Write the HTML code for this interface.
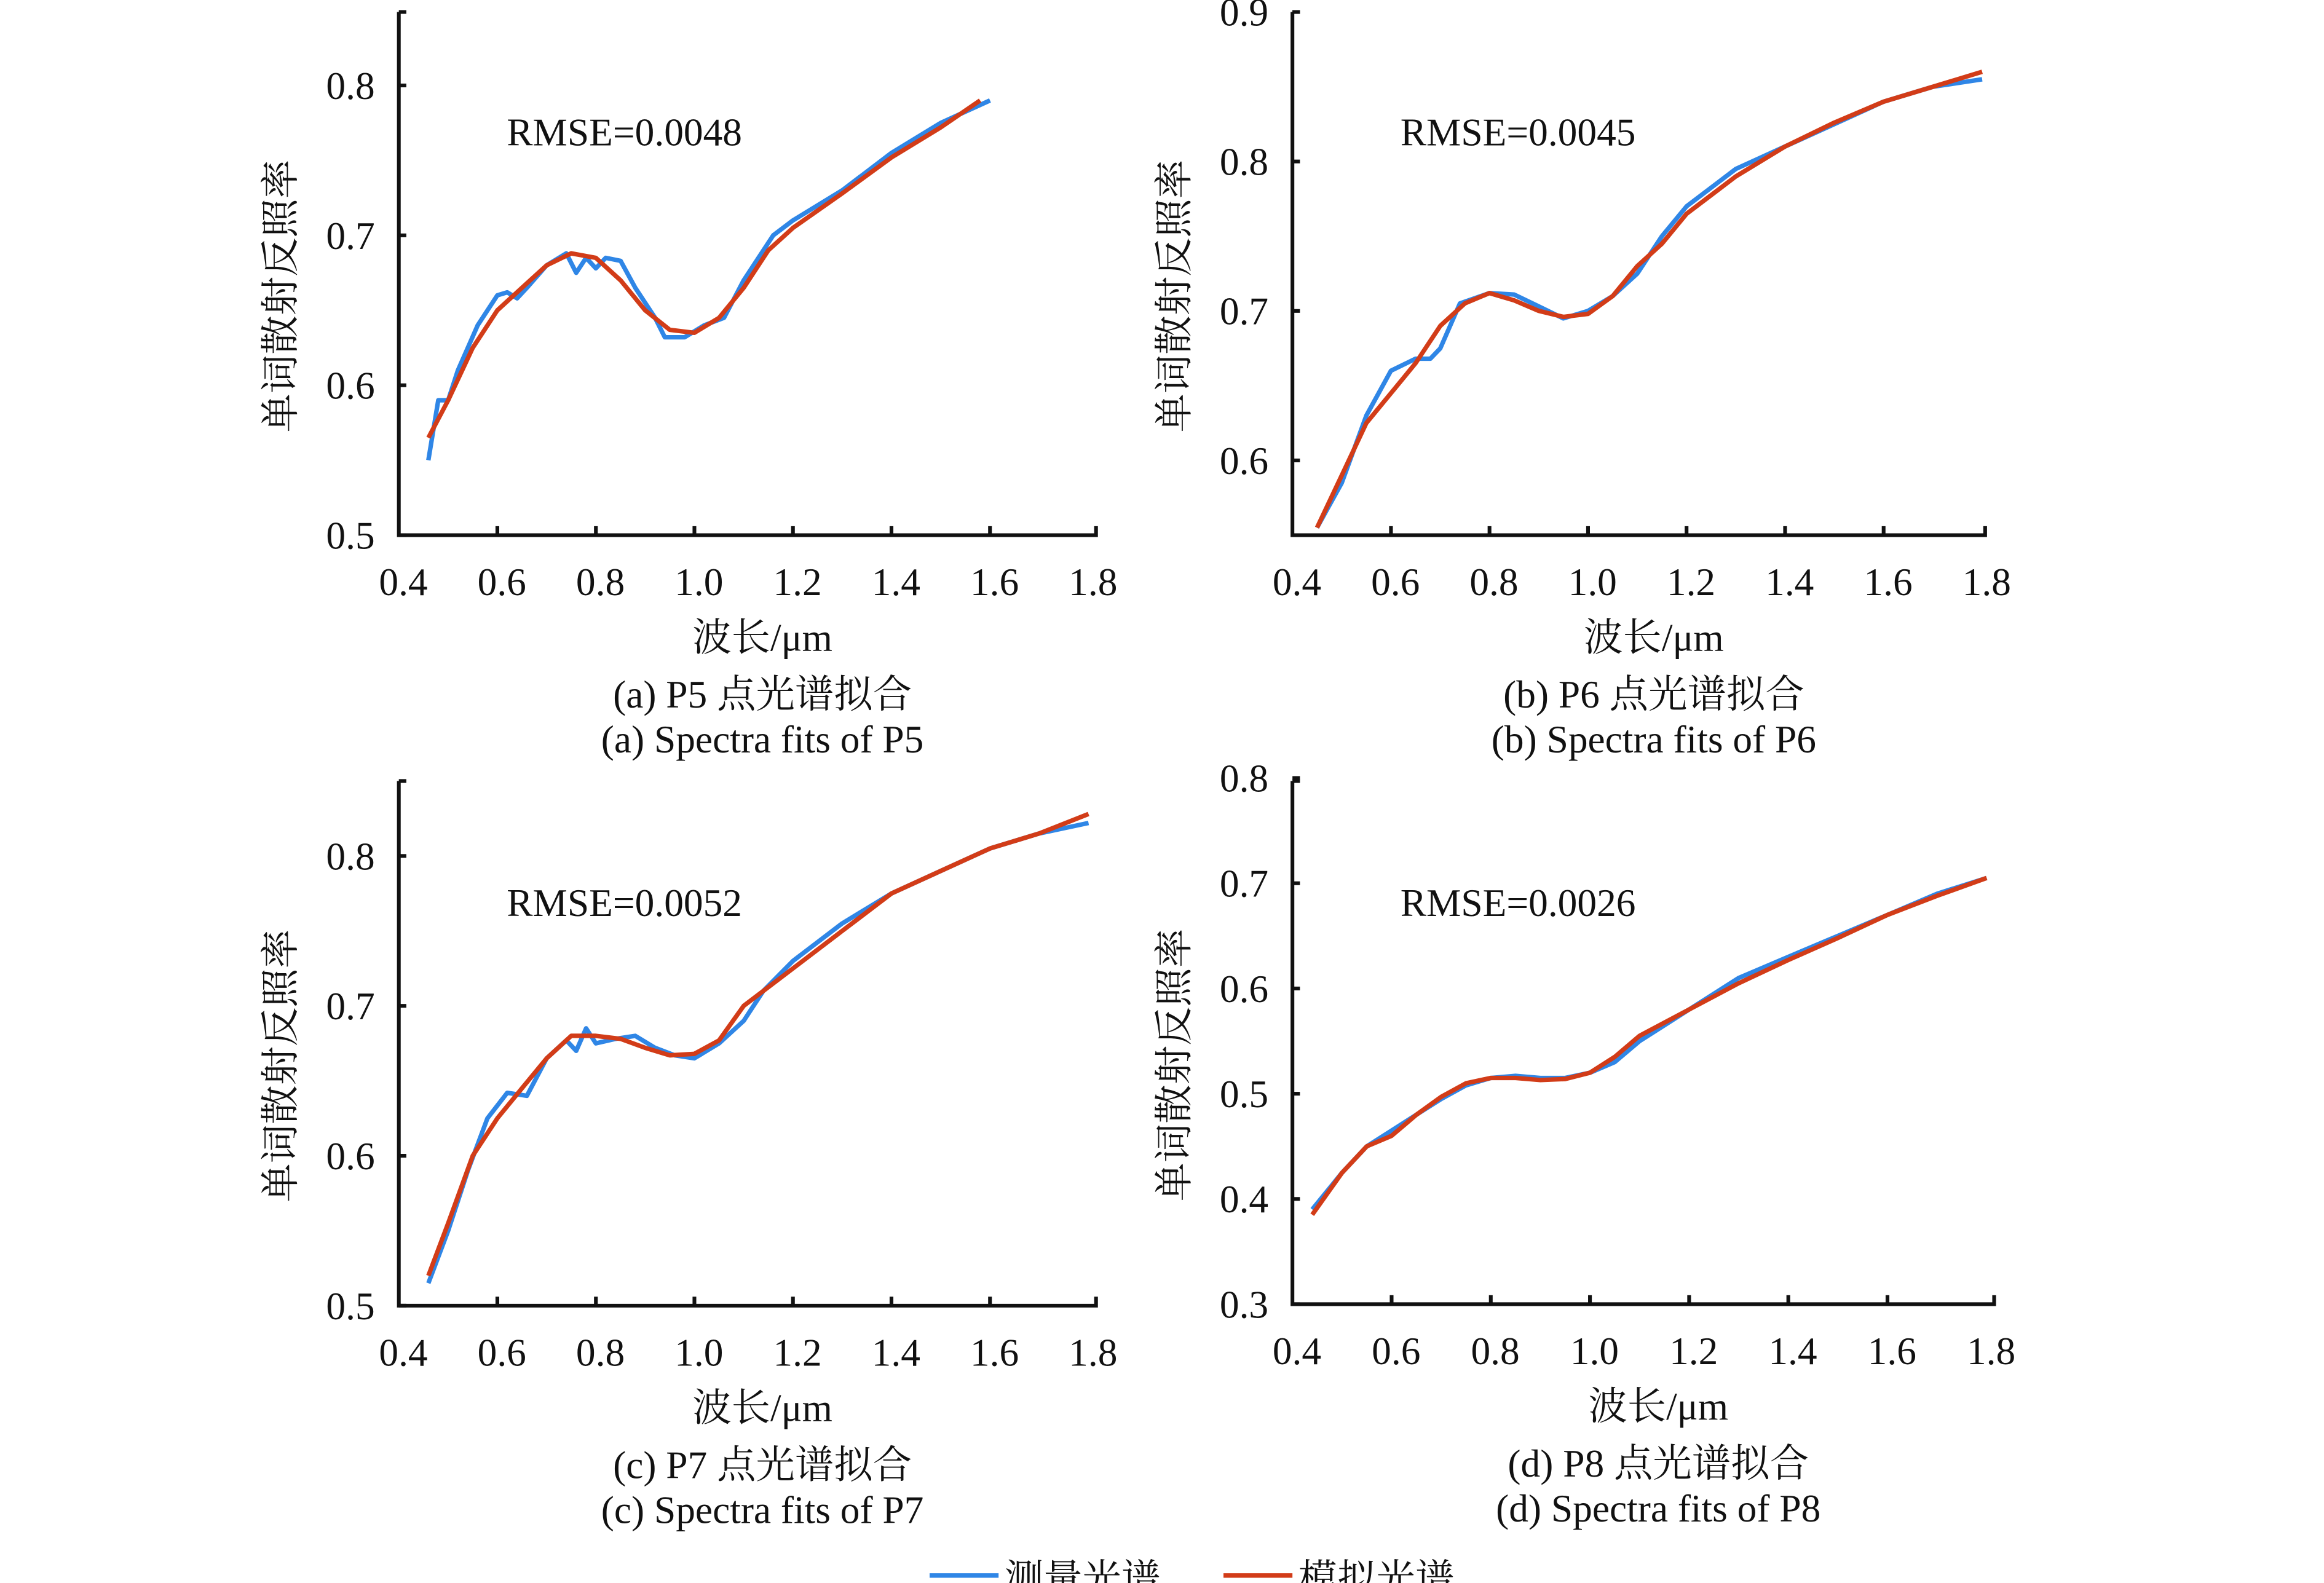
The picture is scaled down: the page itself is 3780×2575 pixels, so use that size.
<!DOCTYPE html>
<html><head><meta charset="utf-8">
<style>
html,body{margin:0;padding:0;background:#fff;}
svg{display:block;}
text{font-family:"Liberation Serif","Noto Serif CJK SC",serif;fill:#111;}
</style></head>
<body>
<svg id="chart" width="3780" height="2575" viewBox="0 0 1550 1056" preserveAspectRatio="none" xmlns="http://www.w3.org/2000/svg">
<g id="root"></g>
</svg>
<script>
// ---- data ----
const xTicks = [0.4,0.6,0.8,1.0,1.2,1.4,1.6,1.8];
const xTickLabels = ["0.4","0.6","0.8","1.0","1.2","1.4","1.6","1.8"];

const aMeasX = [0.46,0.48,0.50,0.52,0.56,0.60,0.62,0.64,0.66,0.70,0.74,0.76,0.78,0.80,0.82,0.85,0.88,0.92,0.94,0.98,1.02,1.06,1.10,1.16,1.20,1.30,1.40,1.50,1.60];
const aMeasY = [0.55,0.59,0.59,0.61,0.64,0.66,0.662,0.658,0.665,0.68,0.688,0.675,0.685,0.678,0.685,0.683,0.665,0.645,0.632,0.632,0.64,0.645,0.67,0.70,0.71,0.73,0.755,0.775,0.79];
const aModX = [0.46,0.50,0.55,0.60,0.65,0.70,0.75,0.80,0.85,0.90,0.95,1.00,1.05,1.10,1.15,1.20,1.30,1.40,1.50,1.58];
const aModY = [0.565,0.59,0.625,0.65,0.665,0.68,0.688,0.685,0.67,0.65,0.637,0.635,0.645,0.665,0.69,0.705,0.728,0.752,0.772,0.79];

const bMeasX = [0.45,0.50,0.55,0.60,0.65,0.68,0.70,0.74,0.80,0.85,0.90,0.95,1.00,1.05,1.10,1.15,1.20,1.30,1.40,1.50,1.60,1.70,1.80];
const bMeasY = [0.555,0.585,0.63,0.66,0.668,0.668,0.675,0.705,0.712,0.711,0.703,0.695,0.70,0.71,0.725,0.75,0.77,0.795,0.81,0.825,0.84,0.85,0.855];
const bModX = [0.45,0.50,0.55,0.60,0.65,0.70,0.75,0.80,0.85,0.90,0.95,1.00,1.05,1.10,1.15,1.20,1.30,1.40,1.50,1.60,1.70,1.80];
const bModY = [0.555,0.59,0.625,0.645,0.665,0.69,0.705,0.712,0.707,0.70,0.696,0.698,0.71,0.73,0.745,0.765,0.79,0.81,0.826,0.84,0.85,0.86];

const cMeasX = [0.46,0.50,0.54,0.58,0.62,0.66,0.70,0.74,0.76,0.78,0.80,0.84,0.88,0.92,0.96,1.00,1.05,1.10,1.14,1.20,1.30,1.40,1.50,1.60,1.70,1.80];
const cMeasY = [0.515,0.55,0.59,0.625,0.642,0.64,0.665,0.677,0.67,0.685,0.675,0.678,0.68,0.672,0.667,0.665,0.675,0.69,0.71,0.73,0.755,0.775,0.79,0.805,0.815,0.822];
const cModX = [0.46,0.50,0.55,0.60,0.65,0.70,0.75,0.80,0.85,0.90,0.95,1.00,1.05,1.10,1.20,1.30,1.40,1.50,1.60,1.70,1.80];
const cModY = [0.52,0.555,0.60,0.625,0.645,0.665,0.68,0.68,0.678,0.672,0.667,0.668,0.677,0.70,0.725,0.75,0.775,0.79,0.805,0.815,0.828];

const dMeasX = [0.44,0.50,0.55,0.60,0.65,0.70,0.75,0.80,0.85,0.90,0.95,1.00,1.05,1.10,1.15,1.20,1.30,1.40,1.50,1.60,1.70,1.80];
const dMeasY = [0.39,0.425,0.45,0.465,0.48,0.495,0.508,0.515,0.517,0.515,0.515,0.52,0.53,0.55,0.565,0.58,0.61,0.63,0.65,0.67,0.69,0.705];
const dModX = [0.44,0.50,0.55,0.60,0.65,0.70,0.75,0.80,0.85,0.90,0.95,1.00,1.05,1.10,1.20,1.30,1.40,1.50,1.60,1.70,1.80];
const dModY = [0.385,0.425,0.45,0.46,0.48,0.497,0.51,0.515,0.515,0.513,0.514,0.52,0.535,0.555,0.58,0.605,0.627,0.648,0.67,0.688,0.705];

const panels = [
 {id:'a', x0:266, x1:726, xEnd:731, yTop:8, yBot:357, yMin:0.5, yMax:0.8, yMaxPx:57, yTicks:[0.5,0.6,0.7,0.8], yLabels:["0.5","0.6","0.7","0.8"], rmse:"RMSE=0.0048", cn:"(a) P5 点光谱拟合", en:"(a) Spectra fits of P5", mx:aMeasX,my:aMeasY,fx:aModX,fy:aModY},
 {id:'b', x0:862, x1:1322, xEnd:1324, yTop:8, yBot:357, yMin:0.55, yMax:0.9, yMaxPx:8, yTicks:[0.6,0.7,0.8,0.9], yLabels:["0.6","0.7","0.8","0.9"], rmse:"RMSE=0.0045", cn:"(b) P6 点光谱拟合", en:"(b) Spectra fits of P6", mx:bMeasX,my:bMeasY,fx:bModX,fy:bModY},
 {id:'c', x0:266, x1:726, xEnd:731, yTop:521, yBot:871, yMin:0.5, yMax:0.8, yMaxPx:571, yTicks:[0.5,0.6,0.7,0.8], yLabels:["0.5","0.6","0.7","0.8"], rmse:"RMSE=0.0052", cn:"(c) P7 点光谱拟合", en:"(c) Spectra fits of P7", mx:cMeasX,my:cMeasY,fx:cModX,fy:cModY},
 {id:'d', x0:862, x1:1325, xEnd:1330, yTop:521, yBot:870, yMin:0.3, yMax:0.8, yMaxPx:519, yTicks:[0.3,0.4,0.5,0.6,0.7,0.8], yLabels:["0.3","0.4","0.5","0.6","0.7","0.8"], rmse:"RMSE=0.0026", cn:"(d) P8 点光谱拟合", en:"(d) Spectra fits of P8", mx:dMeasX,my:dMeasY,fx:dModX,fy:dModY}
];

const NS='http://www.w3.org/2000/svg';
const root=document.getElementById('root');
function mk(tag,attrs,parent,txt){const e=document.createElementNS(NS,tag);for(const k in attrs)e.setAttribute(k,attrs[k]);if(txt!==undefined)e.textContent=txt;(parent||root).appendChild(e);return e;}

panels.forEach(p=>{
  const g=mk('g',{});
  
  
  const sx=v=>p.x0+(v-0.4)/(1.4)*(p.x1-p.x0);
  const sy=v=>p.yBot-(v-p.yMin)/(p.yMax-p.yMin)*(p.yBot-p.yMaxPx);
  const ax=mk('path',{d:`M${p.x0} ${p.yTop} h5 M${p.x0} ${p.yTop} V${p.yBot} H${p.xEnd} v-6`,fill:'none',stroke:'#111','stroke-width':2.5},g);
  
  
  p.yTicks.forEach((t,i)=>{
    const y=sy(t);
    mk('line',{x1:p.x0,x2:p.x0+5,y1:y,y2:y,stroke:'#111','stroke-width':2.5},g);
    const tl=mk('text',{x:p.x0-16,y:y+9,'font-size':26,'text-anchor':'end'},g,p.yLabels[i]);
    
    
  });
  xTicks.forEach((t,i)=>{
    const x=sx(t);
    if(i>0&&i<xTicks.length-1) mk('line',{x1:x,x2:x,y1:p.yBot,y2:p.yBot-6,stroke:'#111','stroke-width':2.5},g);
    const tl=mk('text',{x:x+3,y:p.yBot+40,'font-size':26,'text-anchor':'middle'},g,xTickLabels[i]);
    
    
  });
  const cx=(p.x0+p.xEnd)/2;
  const yl=mk('text',{x:0,y:0,'font-size':26,'text-anchor':'middle',transform:`translate(${p.x0-70},${(p.yTop+p.yBot)/2+15}) rotate(-90)`},g,'单词散射反照率');
  
  
  const xl=mk('text',{x:cx+10,y:p.yBot+77,'font-size':26,'text-anchor':'middle'},g,'波长/μm');
  
  
  const c1=mk('text',{x:cx+10,y:p.yBot+115,'font-size':26,'text-anchor':'middle'},g,p.cn);
  
  
  const c2=mk('text',{x:cx+10,y:p.yBot+145,'font-size':26,'text-anchor':'middle'},g,p.en);
  
  
  const r=mk('text',{x:p.x0+72,y:(p.id==='a'||p.id==='b')?97:611,'font-size':26},g,p.rmse);
  
  
  const line=(xs,ys,col,name)=>{
    const d=xs.map((v,i)=>(i?'L':'M')+sx(v).toFixed(1)+' '+sy(ys[i]).toFixed(1)).join(' ');
    const l=mk('path',{d:d,fill:'none',stroke:col,'stroke-width':3,'stroke-linejoin':'round'},g);
    
    
  };
  line(p.mx,p.my,'#2f86e6','measured-line-'+p.id);
  line(p.fx,p.fy,'#d23c18','model-line-'+p.id);
});

// legend
const lg=mk('g',{});


mk('line',{x1:620,x2:666,y1:1051,y2:1051,stroke:'#2f86e6','stroke-width':3},lg);
const l1=mk('text',{x:670,y:1062,'font-size':26},lg,'测量光谱');


mk('line',{x1:816,x2:862,y1:1051,y2:1051,stroke:'#d23c18','stroke-width':3},lg);
const l2=mk('text',{x:866,y:1062,'font-size':26},lg,'模拟光谱');


</script>
</body></html>
